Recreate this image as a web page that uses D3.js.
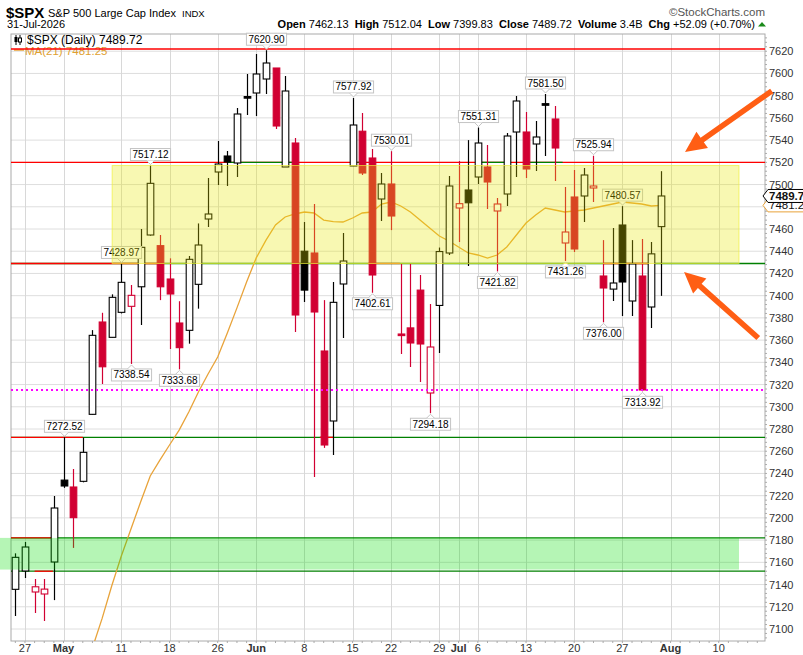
<!DOCTYPE html>
<html>
<head>
<meta charset="utf-8">
<script src="https://cdn.jsdelivr.net/npm/d3@7"></script>
<style>
  body { margin: 0; background: #fff; }
  text { font-family: "Liberation Sans", Arial, sans-serif; }
</style>
</head>
<body>
<svg id="chart"></svg>
<script>
// daily bars, Apr 24 .. Jul 31 2026
const opens = [7135.7,7152.2,7133.3,7131.5,7160.3,7234.0,7227.8,7232.9,7293.2,7376.3,
  7362.5,7385.0,7390.4,7408.0,7454.6,7445.0,7415.0,7375.4,7368.8,7410.2,
  7469.0,7511.3,7525.7,7519.4,7579.2,7582.4,7595.0,7604.9,7515.8,7537.4,
  7440.0,7438.4,7350.2,7287.2,7410.5,7516.7,7548.0,7523.9,7487.0,7500.5,
  7365.5,7371.0,7405.0,7312.4,7391.2,7438.4,7478.9,7495.1,7506.8,7515.8,
  7476.2,7491.5,7547.3,7547.3,7536.5,7572.8,7559.0,7447.4,7488.8,7489.7,
  7496.9,7417.7,7405.9,7463.6,7395.2,7417.7,7389.8,7462.13];
const highs = [7168.1,7178.3,7145.0,7145.0,7219.7,7272.52,7244.0,7272.2,7369.0,7384.6,
  7401.2,7428.97,7409.6,7460.0,7517.12,7454.6,7433.6,7395.0,7435.7,7465.0,
  7505.9,7539.2,7530.2,7568.9,7599.5,7617.5,7620.90,7604.9,7597.7,7541.9,
  7466.3,7482.5,7396.0,7412.3,7456.4,7577.92,7564.4,7532.0,7510.4,7530.01,
  7428.5,7428.5,7418.6,7392.5,7443.3,7507.7,7521.2,7540.0,7551.31,7535.6,
  7487.9,7546.4,7579.7,7565.3,7557.2,7581.50,7570.7,7497.8,7513.1,7514.9,
  7525.94,7450.0,7460.9,7480.57,7450.0,7451.0,7448.3,7512.04];
const lows = [7111.7,7145.9,7114.4,7107.2,7126.0,7227.0,7173.0,7232.0,7293.0,7320.5,
  7362.5,7384.0,7338.54,7373.6,7454.0,7396.0,7352.0,7333.68,7356.8,7388.3,
  7461.8,7499.6,7498.7,7506.8,7562.6,7561.7,7581.5,7550.0,7515.8,7367.3,
  7394.3,7236.8,7263.0,7256.6,7361.9,7516.7,7508.6,7402.61,7467.2,7459.0,
  7347.5,7335.8,7322.3,7294.18,7348.4,7436.6,7448.3,7426.7,7500.5,7478.0,
  7421.82,7480.7,7506.8,7505.9,7512.2,7525.7,7503.2,7431.26,7439.3,7466.3,
  7484.3,7376.00,7395.2,7381.7,7381.7,7313.92,7370.9,7399.83];
const closes = [7164.5,7173.8,7138.0,7135.9,7208.9,7228.7,7200.2,7259.0,7364.3,7336.0,
  7398.5,7412.0,7400.3,7443.5,7501.1,7408.0,7401.5,7353.2,7432.7,7445.6,
  7473.5,7518.5,7520.3,7563.5,7578.4,7599.5,7609.4,7552.7,7584.2,7382.6,
  7405.0,7385.3,7265.6,7394.0,7431.2,7553.6,7510.4,7418.6,7500.5,7471.7,
  7364.5,7357.4,7356.5,7353.8,7439.7,7498.7,7482.8,7483.6,7537.4,7502.3,
  7482.5,7543.7,7575.2,7514.0,7542.8,7572.1,7532.9,7457.3,7442.0,7508.6,
  7498.7,7406.9,7411.4,7412.3,7428.5,7315.1,7437.63,7489.72];
const ma21 = [null,null,null,null,null,null,null,null,
  7083,7109.3,7138.7,7165.7,7190,7214.3,7237.7,7252,7265.6,7279,7295.3,7313.3,
  7329.5,7344.8,7366.4,7389,7412.3,7434,7449.7,7463.6,7470.8,7473.5,
  7475.3,7474.4,7468,7466.7,7466.3,7469.9,7474.4,7475.3,7482.5,7484.3,
  7480.7,7475.3,7468,7460.9,7453.7,7449.2,7443.8,7438.4,7436.6,7433.9,
  7436.6,7443.8,7454.6,7465.4,7472.6,7478.9,7477.1,7475.3,7476.2,7477.1,
  7478.9,7480.7,7482.5,7484.3,7483.4,7482.5,7480.7,7481.25];

// calendar
const firstDay = "2026-04-24";
const holidays = ["2026-05-25", "2026-06-19", "2026-07-03"];
const slotCount = 79;

// annotated highs / lows (bar indices)
const highLabelBars = [5, 11, 14, 26, 35, 39, 48, 55, 60, 63];
const lowLabelBars = [12, 17, 37, 43, 50, 57, 61, 65];

// drawn levels
const yellowZone = [7428.97, 7517.12];
const yellowZoneBars = [10.05, 75.1];
const greenZone = [7153.5, 7182];
const greenZoneBars = [-1.6, 75.1];
const lowDotted = 7315;
const redLevels = [7622, 7520];
const greenLevels = [7428.97, 7272.52, 7182, 7152];
const redPieces = [
  [7428.97, -0.45, 14.7], [7428.97, 29.0, 29.5], [7428.97, 36.6, 39.9], [7428.97, 61.0, 66.0],
  [7272.52, -0.45, 7.0], [7272.52, 31.6, 33.0],
  [7182, -0.45, 3.9], [7152, 2.0, 3.9]
];
const greenPieces = [[7520, 21.96, 29.0], [7520, 35.5, 36.1], [7520, 48.0, 51.0], [7520, 53.1, 56.8]];
// arrows: [barTail, priceTail, barTip, priceTip]
const arrows = [[78.5, 7584.2, 69.5, 7529.3], [77.1, 7361.9, 69.4, 7421.3]];

const W = 803, H = 655;
const plot = {left: 11, right: 765, top: 34, bottom: 641};
const RED = "#d10032", MA_COL = "#e8a33a";

const svg = d3.select("#chart").attr("width", W).attr("height", H);
svg.append("rect").attr("width", W).attr("height", H).attr("fill", "#fff");

const x = d3.scaleLinear().domain([-0.45, 77.8]).range([plot.left, plot.right]);
const y = d3.scaleLinear().domain([7089.2, 7635.5]).range([plot.bottom, plot.top]);

// trading days
const parse = d3.utcParse("%Y-%m-%d"), fmt = d3.utcFormat("%Y-%m-%d");
const days = [];
let d = parse(firstDay);
while (days.length < slotCount) {
  const wd = d.getUTCDay();
  if (wd !== 0 && wd !== 6 && !holidays.includes(fmt(d))) days.push(d);
  d = d3.utcDay.offset(d, 1);
}
const ticks = [];
days.forEach((day, i) => {
  if (i === 0) return;
  const prev = days[i - 1];
  const newMonth = day.getUTCMonth() !== prev.getUTCMonth();
  const newWeek = day.getUTCDay() < prev.getUTCDay() || (day - prev) > 86400000 * 3.5;
  const last = ticks[ticks.length - 1];
  if (newMonth) ticks.push({i, label: d3.utcFormat("%b")(day), bold: true});
  else if (newWeek && !(last && i - last.i < 2)) ticks.push({i, label: String(day.getUTCDate()), bold: false});
});
const visTicks = ticks.filter(t => x(t.i) < plot.right - 2);

// header
svg.append("text").attr("x", 6).attr("y", 17.5).attr("font-size", 15).attr("font-weight", "bold").text("$SPX");
svg.append("text").attr("x", 48).attr("y", 17).attr("font-size", 11.5)
  .attr("textLength", 128).attr("lengthAdjust", "spacingAndGlyphs").text("S&P 500 Large Cap Index");
svg.append("text").attr("x", 182).attr("y", 17).attr("font-size", 9.5).text("INDX");
svg.append("text").attr("x", 765).attr("y", 16).attr("font-size", 11.5).attr("fill", "#555")
  .attr("text-anchor", "end").text("\u00a9StockCharts.com");
svg.append("text").attr("x", 7).attr("y", 27.5).attr("font-size", 11).text("31-Jul-2026");
const info = svg.append("text").attr("x", 755).attr("y", 27.5).attr("font-size", 11).attr("text-anchor", "end");
[["Open", " 7462.13  "], ["High", " 7512.04  "], ["Low", " 7399.83  "], ["Close", " 7489.72  "],
 ["Volume", " 3.4B  "], ["Chg", " +52.09 (+0.70%)"]].forEach(([k, v]) => {
  info.append("tspan").attr("font-weight", "bold").text(k);
  info.append("tspan").attr("xml:space", "preserve").style("white-space", "pre").text(v);
});
svg.append("path").attr("d", "M758,26.5 L762,22 L766,26.5 Z").attr("fill", "#1a8a1a");

// grid
svg.append("g").selectAll("line").data(d3.range(7100, 7621, 20)).join("line")
  .attr("x1", plot.left).attr("x2", plot.right).attr("y1", v => y(v)).attr("y2", v => y(v))
  .attr("stroke", "#dedede");
svg.append("g").selectAll("line").data(visTicks).join("line")
  .attr("x1", t => Math.round(x(t.i)) + 0.5).attr("x2", t => Math.round(x(t.i)) + 0.5)
  .attr("y1", plot.top).attr("y2", plot.bottom).attr("stroke", "#d8d8d8");

// frame and axes
svg.append("rect").attr("x", plot.left).attr("y", plot.top)
  .attr("width", plot.right - plot.left).attr("height", plot.bottom - plot.top)
  .attr("fill", "none").attr("stroke", "#aaa");
svg.append("g").selectAll("line").data(d3.range(7092, 7636, 4)).join("line")
  .attr("x1", plot.right).attr("x2", plot.right + 2).attr("y1", v => y(v)).attr("y2", v => y(v))
  .attr("stroke", "#aaa");
svg.append("g").selectAll("text").data(d3.range(7100, 7621, 20).filter(v => v !== 7480)).join("text")
  .attr("x", plot.right + 4).attr("y", v => y(v) + 4).attr("font-size", 11).attr("fill", "#333")
  .text(v => v);
svg.append("g").selectAll("line").data(d3.range(0, 78)).join("line")
  .attr("x1", i => x(i)).attr("x2", i => x(i)).attr("y1", plot.bottom).attr("y2", plot.bottom + 2)
  .attr("stroke", "#aaa");
svg.append("g").selectAll("text").data(visTicks).join("text")
  .attr("x", t => x(t.i)).attr("y", 652).attr("text-anchor", "middle").attr("font-size", 11)
  .attr("font-weight", t => t.bold ? "bold" : "normal").attr("fill", "#333").text(t => t.label);

// legend
const lg = svg.append("g");
lg.append("line").attr("x1", 16).attr("x2", 16).attr("y1", 35).attr("y2", 45).attr("stroke", "#000");
lg.append("rect").attr("x", 14.5).attr("y", 37).attr("width", 3).attr("height", 5).attr("fill", "#000");
lg.append("line").attr("x1", 20).attr("x2", 20).attr("y1", 35).attr("y2", 45).attr("stroke", "#000");
lg.append("rect").attr("x", 18.5).attr("y", 38).attr("width", 3).attr("height", 4).attr("fill", "#fff").attr("stroke", "#000");
lg.append("text").attr("x", 27).attr("y", 43.5).attr("font-size", 12).text("$SPX (Daily) 7489.72");
lg.append("line").attr("x1", 14).attr("x2", 24).attr("y1", 50).attr("y2", 50).attr("stroke", MA_COL).attr("stroke-width", 1.5);
lg.append("text").attr("x", 25).attr("y", 54.5).attr("font-size", 11.5).attr("fill", "#e0a030").text("MA(21) 7481.25");

// level lines
const lv = svg.append("g").attr("stroke-width", 1.3);
lv.selectAll(".rl").data(redLevels).join("line").attr("class", "rl")
  .attr("x1", plot.left).attr("x2", plot.right).attr("y1", v => y(v)).attr("y2", v => y(v)).attr("stroke", "#ff0000");
lv.selectAll(".gl").data(greenLevels).join("line").attr("class", "gl")
  .attr("x1", plot.left).attr("x2", plot.right).attr("y1", v => y(v)).attr("y2", v => y(v)).attr("stroke", "#008000");
lv.selectAll(".rp").data(redPieces).join("line").attr("class", "rp")
  .attr("x1", p => x(p[1])).attr("x2", p => x(p[2])).attr("y1", p => y(p[0])).attr("y2", p => y(p[0])).attr("stroke", "#ff0000");
lv.selectAll(".gp").data(greenPieces).join("line").attr("class", "gp")
  .attr("x1", p => x(p[1])).attr("x2", p => x(p[2])).attr("y1", p => y(p[0])).attr("y2", p => y(p[0])).attr("stroke", "#008000");

// clip
svg.append("defs").append("clipPath").attr("id", "pc").append("rect")
  .attr("x", plot.left).attr("y", plot.top).attr("width", plot.right - plot.left).attr("height", plot.bottom - plot.top);

// moving average
svg.append("path").attr("clip-path", "url(#pc)")
  .datum(ma21.map((v, i) => [i, v]).filter(p => p[1] != null))
  .attr("d", d3.line().x(p => x(p[0])).y(p => y(p[1])))
  .attr("fill", "none").attr("stroke", MA_COL).attr("stroke-width", 1.3);

// candles
const bars = closes.map((c, i) => {
  const prev = i === 0 ? opens[0] : closes[i - 1];
  return {i, o: opens[i], h: highs[i], l: lows[i], c, col: c >= prev ? "#000" : RED, hollow: c >= opens[i]};
});
const cg = svg.append("g").attr("clip-path", "url(#pc)");
const bw = 6.6;
cg.selectAll(".wick").data(bars).join("line").attr("class", "wick")
  .attr("x1", b => Math.round(x(b.i)) + 0.5).attr("x2", b => Math.round(x(b.i)) + 0.5)
  .attr("y1", b => y(b.h)).attr("y2", b => y(b.l)).attr("stroke", b => b.col).attr("stroke-width", 1.2);
cg.selectAll(".body").data(bars).join("rect").attr("class", "body")
  .attr("x", b => Math.round(x(b.i)) + 0.5 - bw / 2)
  .attr("y", b => y(Math.max(b.o, b.c)))
  .attr("width", bw)
  .attr("height", b => Math.max(1.6, y(Math.min(b.o, b.c)) - y(Math.max(b.o, b.c))))
  .attr("fill", b => b.hollow ? "#fff" : b.col)
  .attr("stroke", b => b.col).attr("stroke-width", 1.1);

// price annotations
const ann = svg.append("g");
function tag(i, v, above) {
  const cx = Math.round(x(i)) + 0.5;
  const py = y(v);
  const g = ann.append("g");
  const t = g.append("text").attr("font-size", 10).attr("text-anchor", "middle").text(v.toFixed(2));
  const w = t.node().getComputedTextLength() + 4, h = 12;
  const top = above ? py - 5 - h : py + 5;
  g.insert("rect", "text").attr("x", cx - w / 2).attr("y", top).attr("width", w).attr("height", h)
    .attr("fill", "#fff").attr("stroke", "#c4c4c4");
  const pt = above
    ? `M${cx - 4},${top + h} L${cx},${top + h + 4} L${cx + 4},${top + h}`
    : `M${cx - 4},${top} L${cx},${top - 4} L${cx + 4},${top}`;
  g.append("path").attr("d", pt).attr("fill", "#fff").attr("stroke", "#c4c4c4");
  t.attr("x", cx).attr("y", top + 9.5).raise();
}
highLabelBars.forEach(i => tag(i, highs[i], true));
lowLabelBars.forEach(i => tag(i, lows[i], false));

// zones (overlay)
svg.append("rect").attr("x", x(yellowZoneBars[0])).attr("width", x(yellowZoneBars[1]) - x(yellowZoneBars[0]))
  .attr("y", y(yellowZone[1])).attr("height", y(yellowZone[0]) - y(yellowZone[1]))
  .attr("fill", "rgb(233,231,0)").attr("fill-opacity", 0.3)
  .attr("stroke", "rgb(240,240,60)").attr("stroke-opacity", 0.7);
svg.append("rect").attr("x", x(greenZoneBars[0])).attr("width", x(greenZoneBars[1]) - x(greenZoneBars[0]))
  .attr("y", y(greenZone[1])).attr("height", y(greenZone[0]) - y(greenZone[1]))
  .attr("fill", "rgb(0,220,0)").attr("fill-opacity", 0.29);

// dotted support
svg.append("line").attr("x1", plot.left).attr("x2", plot.right).attr("y1", y(lowDotted)).attr("y2", y(lowDotted))
  .attr("stroke", "#ff00ff").attr("stroke-width", 2).attr("stroke-dasharray", "2,3");

// right-side value tags
function sideTag(v, stroke, bold) {
  const cy = y(v);
  svg.append("path").attr("d", `M${plot.right - 2},${cy} L${plot.right + 3},${cy - 6.5} L${W + 2},${cy - 6.5} L${W + 2},${cy + 6.5} L${plot.right + 3},${cy + 6.5} Z`)
    .attr("fill", "#fff").attr("stroke", stroke);
  svg.append("text").attr("x", plot.right + 4).attr("y", cy + 4).attr("font-size", 11.5)
    .attr("font-weight", bold ? "bold" : "normal").attr("fill", "#111").text(v.toFixed(2));
}
sideTag(ma21[ma21.length - 1], MA_COL, false);
sideTag(closes[closes.length - 1], "#000", true);

// arrows
function arrowPath(x1, y1, x2, y2) {
  const dx = x2 - x1, dy = y2 - y1, L = Math.hypot(dx, dy), ux = dx / L, uy = dy / L, px = -uy, py = ux;
  const hw = 2.8, hl = 21, hh = 10;
  const bx = x2 - ux * hl, by = y2 - uy * hl;
  return `M${x1 + px * hw},${y1 + py * hw} L${bx + px * hw},${by + py * hw} L${bx + px * hh},${by + py * hh} ` +
    `L${x2},${y2} L${bx - px * hh},${by - py * hh} L${bx - px * hw},${by - py * hw} L${x1 - px * hw},${y1 - py * hw} Z`;
}
svg.append("g").selectAll("path").data(arrows).join("path")
  .attr("d", a => arrowPath(x(a[0]), y(a[1]), x(a[2]), y(a[3])))
  .attr("fill", "#ff5e14");
</script>
</body>
</html>
